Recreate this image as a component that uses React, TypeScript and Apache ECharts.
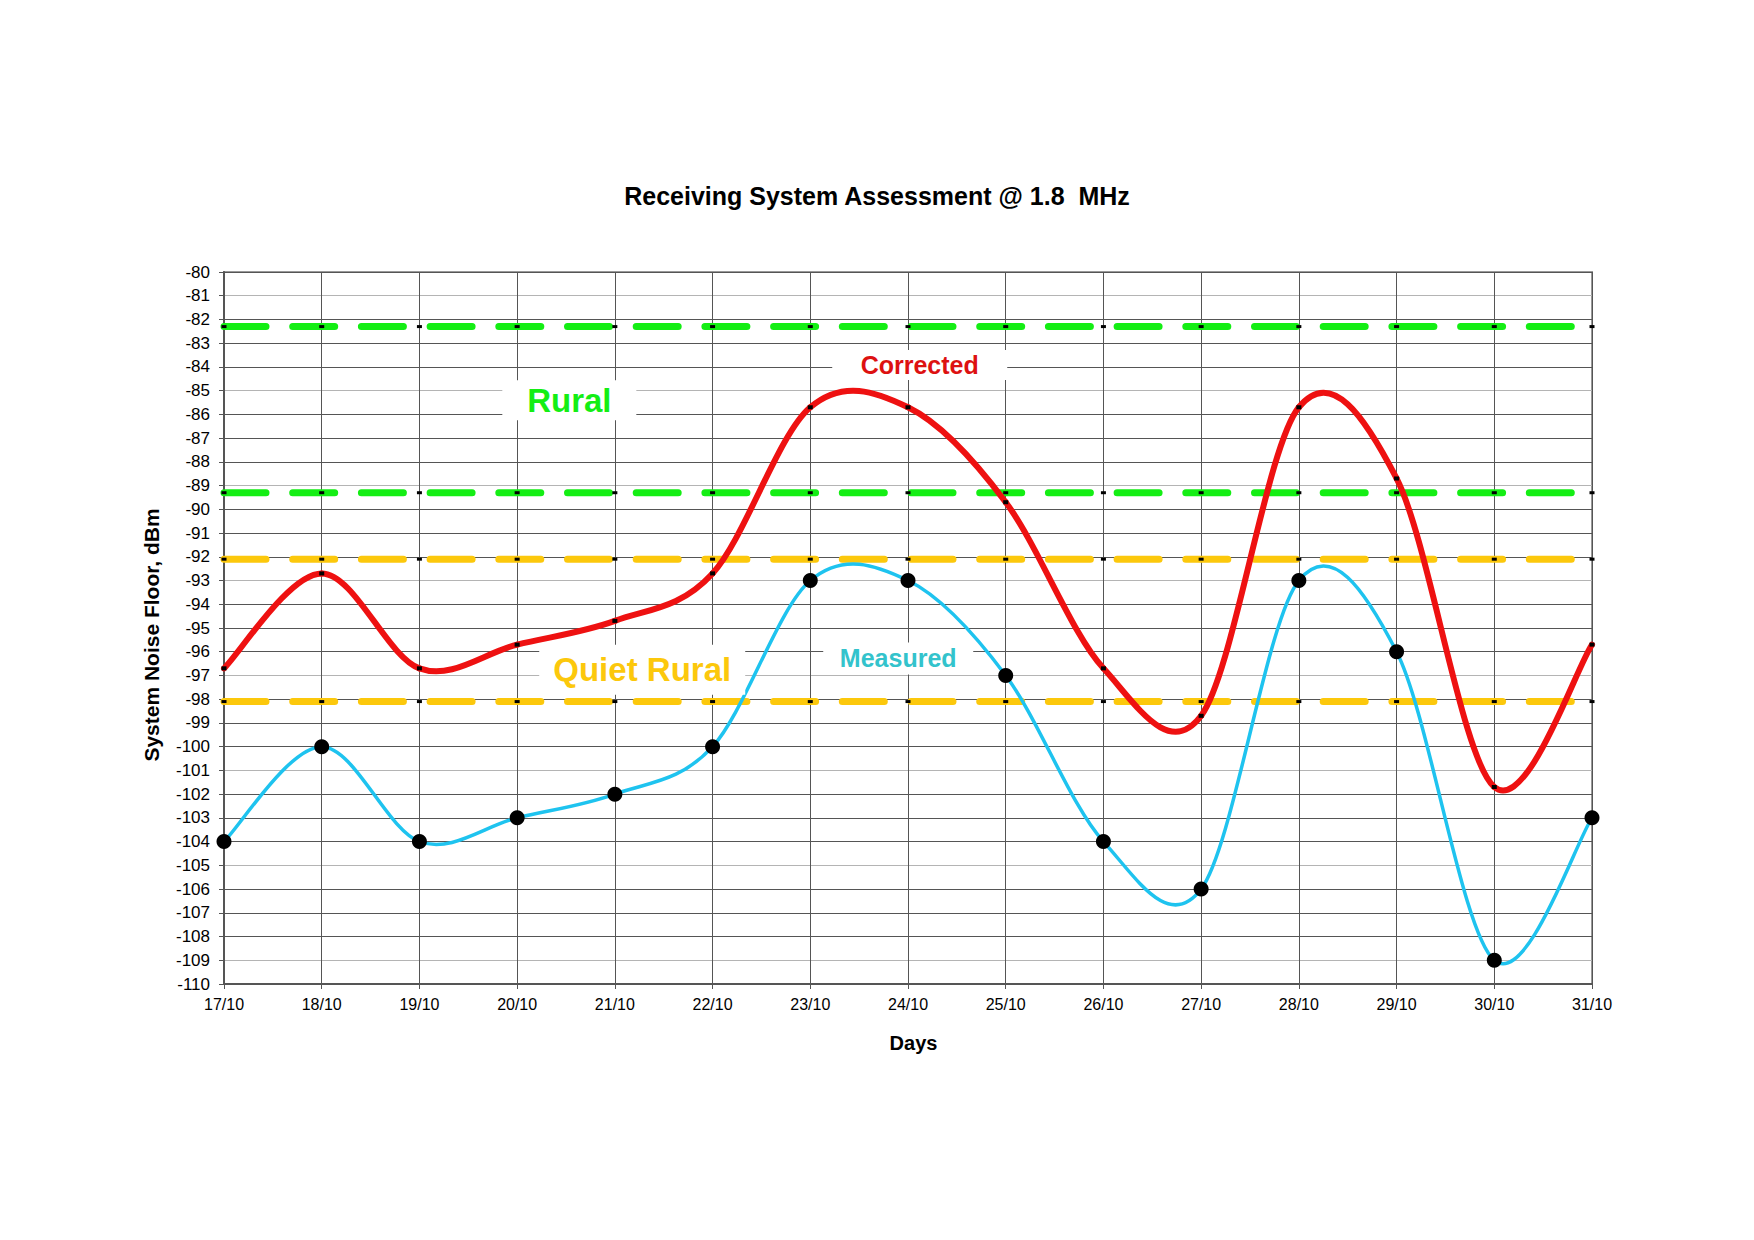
import React, { useEffect, useRef } from "react";
import * as echarts from "echarts";

// ---- data ----
const days = [
  "17/10", "18/10", "19/10", "20/10", "21/10", "22/10", "23/10", "24/10",
  "25/10", "26/10", "27/10", "28/10", "29/10", "30/10", "31/10",
];
const measured = [-104, -100, -104, -103, -102, -100, -93, -93, -97, -104, -106, -93, -96, -109, -103];
const corrected = [-96.7, -92.7, -96.7, -95.7, -94.7, -92.7, -85.7, -85.7, -89.7, -96.7, -98.7, -85.7, -88.7, -101.7, -95.7];
const ruralLimits = [-82.3, -89.3];
const quietRuralLimits = [-92.1, -98.1];
const yMin = -110;
const yMax = -80;

const FONT = '"Liberation Sans", Arial, Helvetica, sans-serif';
const GREEN = "#14ee14";
const YELLOW = "#fcc80c";
const RED = "#ee1111";
const CYAN = "#1ec3ef";
const TEAL = "#33c3cc";

const pairs = (vals: number[]) => vals.map((v, i) => [i, v]);

const levelLine = (level: number, color: string) => ({
  type: "line",
  data: days.map((_, i) => [i, level]),
  symbol: "rect",
  symbolSize: [5, 3],
  showSymbol: true,
  showAllSymbol: true,
  itemStyle: { color: "#000", opacity: 1 },
  lineStyle: { color, width: 7, type: [42, 26.7], cap: "round" },
  silent: true,
  z: 2,
});

// Spreadsheet-style smoothed line (Catmull-Rom through the points, positioned by the axes)
const smoothCurve = (values: number[], color: string, width: number, z: number) => ({
  type: "custom",
  data: pairs(values),
  encode: { x: 0, y: 1 },
  silent: true,
  z,
  renderItem: (params: any, api: any) => {
    const i = params.dataIndex;
    const n = values.length;
    if (i >= n - 1) return null;
    const p = (k: number) => {
      const kk = Math.max(0, Math.min(n - 1, k));
      return api.coord([kk, values[kk]]);
    };
    const p0 = p(i - 1);
    const p1 = p(i);
    const p2 = p(i + 1);
    const p3 = p(i + 2);
    return {
      type: "bezierCurve",
      shape: {
        x1: p1[0],
        y1: p1[1],
        x2: p2[0],
        y2: p2[1],
        cpx1: p1[0] + (p2[0] - p0[0]) / 6,
        cpy1: p1[1] + (p2[1] - p0[1]) / 6,
        cpx2: p2[0] - (p3[0] - p1[0]) / 6,
        cpy2: p2[1] - (p3[1] - p1[1]) / 6,
      },
      style: { stroke: color, lineWidth: width, fill: "none", lineCap: "round" },
    };
  },
});

const annotation = (
  text: string,
  coord: number[],
  size: number[],
  color: string,
  fontSize: number
) => ({
  coord,
  symbol: "rect",
  symbolSize: size,
  itemStyle: { color: "#fff", opacity: 1 },
  label: {
    show: true,
    position: "inside",
    formatter: text,
    color,
    fontSize,
    fontWeight: "bold",
    fontFamily: FONT,
  },
});

const option = {
  animation: false,
  backgroundColor: "#fff",
  title: {
    text: "Receiving System Assessment @ 1.8  MHz",
    left: "center",
    top: 178,
    textStyle: { fontSize: 25, fontWeight: "bold", color: "#000", fontFamily: FONT, lineHeight: 25 },
  },
  grid: {
    left: 224,
    right: 162,
    top: 272,
    bottom: 256,
    show: true,
    borderColor: "#999",
    borderWidth: 2,
    backgroundColor: "transparent",
  },
  xAxis: {
    type: "value",
    min: 0,
    max: days.length - 1,
    interval: 1,
    name: "Days",
    nameLocation: "middle",
    nameGap: 49,
    nameTextStyle: {
      fontSize: 20,
      fontWeight: "bold",
      color: "#000",
      fontFamily: FONT,
      padding: [0, 0, 0, 11],
    },
    axisLine: { show: true, lineStyle: { color: "#555", width: 2 } },
    axisTick: { show: true, length: 5, lineStyle: { color: "#555" } },
    axisLabel: {
      formatter: (v: number) => days[v] ?? "",
      fontSize: 16,
      color: "#000",
      margin: 12,
      fontFamily: FONT,
    },
    splitLine: { show: true, lineStyle: { color: "#555", width: 1 } },
  },
  yAxis: {
    type: "value",
    min: yMin,
    max: yMax,
    interval: 1,
    name: "System Noise Floor, dBm",
    nameLocation: "middle",
    nameGap: 62,
    nameRotate: 90,
    nameTextStyle: {
      fontSize: 21,
      fontWeight: "bold",
      color: "#000",
      fontFamily: FONT,
      padding: [0, 14, 0, 0],
    },
    axisLine: { show: true, lineStyle: { color: "#555", width: 2 } },
    axisTick: { show: true, length: 5, lineStyle: { color: "#555" } },
    axisLabel: { fontSize: 17, color: "#000", margin: 14, fontFamily: FONT },
    splitLine: { show: true, lineStyle: { color: ["#555", "#b4b4b4", "#555", "#555"], width: 1 } },
  },
  series: [
    {
      type: "line",
      name: "labels",
      data: [],
      silent: true,
      z: 1,
      markPoint: {
        silent: true,
        animation: false,
        data: [
          annotation("Rural", [3.534, -85.4], [134, 40], GREEN, 33),
          annotation("Corrected", [7.12, -83.92], [175, 30], "#dd1111", 25),
          annotation("Quiet Rural", [4.28, -96.76], [206, 50], YELLOW, 33),
          annotation("Measured", [6.9, -96.28], [150, 32], TEAL, 25),
        ],
      },
    },
    levelLine(ruralLimits[0], GREEN),
    levelLine(ruralLimits[1], GREEN),
    levelLine(quietRuralLimits[0], YELLOW),
    levelLine(quietRuralLimits[1], YELLOW),
    smoothCurve(corrected, RED, 6, 3),
    {
      type: "scatter",
      name: "Corrected points",
      data: pairs(corrected),
      symbol: "rect",
      symbolSize: [5, 4],
      itemStyle: { color: "#000", opacity: 1 },
      silent: true,
      z: 3,
    },
    smoothCurve(measured, CYAN, 3.5, 4),
    {
      type: "scatter",
      name: "Measured",
      data: pairs(measured),
      symbol: "circle",
      symbolSize: 15,
      itemStyle: { color: "#000", opacity: 1 },
      silent: true,
      z: 5,
    },
  ],
};

export default function App() {
  const ref = useRef<HTMLDivElement>(null);
  useEffect(() => {
    const chart = echarts.init(ref.current!, null, { renderer: "svg" });
    chart.setOption(option as any);
    return () => chart.dispose();
  }, []);
  return (
    <div
      ref={ref}
      style={{ position: "absolute", left: 0, top: 0, width: 1754, height: 1240, background: "#fff" }}
    />
  );
}
